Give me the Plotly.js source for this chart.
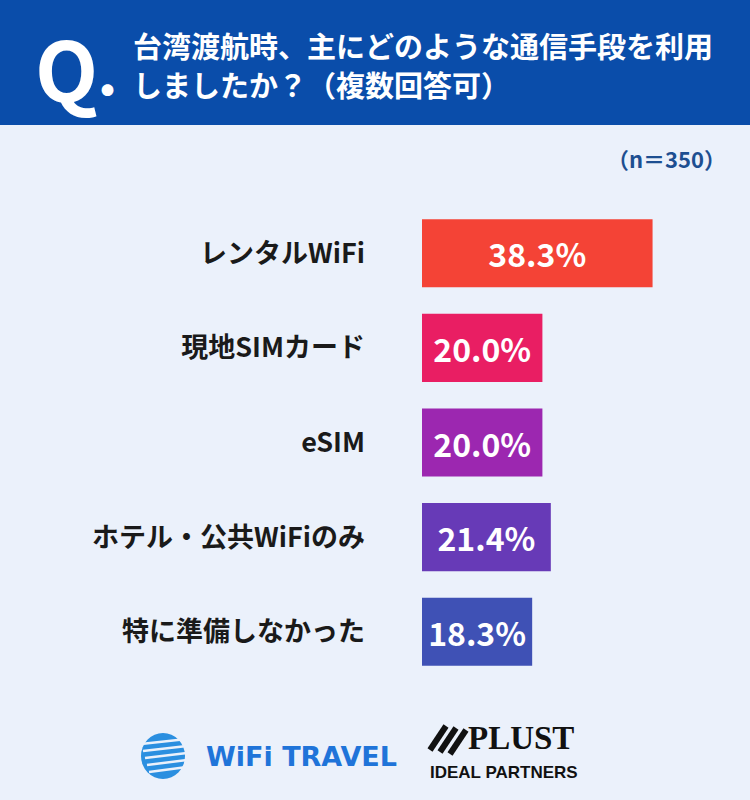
<!DOCTYPE html>
<html>
<head>
<meta charset="utf-8">
<script src="https://cdn.plot.ly/plotly-3.0.1.min.js"></script>
<style>html,body{margin:0;padding:0;background:#ebf1fb;}</style>
</head>
<body>
<div id="chart" style="width:750px;height:800px;"></div>
<script>
const categories = ['レンタルWiFi', '現地SIMカード', 'eSIM', 'ホテル・公共WiFiのみ', '特に準備しなかった'];
const values = [38.3, 20.0, 20.0, 21.4, 18.3];
const barColors = ['#f44336', '#e91e63', '#9c27b0', '#673ab7', '#3f51b5'];
const titleLine1 = '台湾渡航時、主にどのような通信手段を利用';
const titleLine2 = 'しましたか？（複数回答可）';
const sampleNote = '（n＝350）';

const W = 750, H = 800;
const M = {l: 422, r: 27, t: 206, b: 121};
const PW = W - M.l - M.r, PH = H - M.t - M.b;
const px = x => (x - M.l) / PW;
const py = y => (H - M.b - y) / PH;
const JP = '"Noto Sans CJK JP", "Noto Sans", sans-serif';

const shapes = [
  {type: 'rect', xref: 'paper', yref: 'paper', x0: px(0), x1: px(W), y0: py(125), y1: py(0),
   fillcolor: '#0a4daa', line: {width: 0}, layer: 'below'},
  // globe logo
  {type: 'circle', xref: 'paper', yref: 'paper', x0: px(141), x1: px(185), y0: py(779), y1: py(733),
   fillcolor: '#2b8fe0', line: {width: 0}}
];
// white stripes on globe
[741, 748, 755, 762, 769].forEach((y, i) => {
  shapes.push({type: 'line', xref: 'paper', yref: 'paper', x0: px(141 + i * 2), x1: px(187), y0: py(y + 3), y1: py(y - 2),
    line: {color: '#ebf1fb', width: 2.5}});
});
// PLUST mark strokes
[[430, 750, 446, 726], [440, 752, 456, 728], [450, 754, 466, 730]].forEach(s => {
  shapes.push({type: 'line', xref: 'paper', yref: 'paper', x0: px(s[0]), y0: py(s[1]), x1: px(s[2]), y1: py(s[3]),
    line: {color: '#111', width: 6}});
});

const annotations = [
  {xref: 'paper', yref: 'paper', x: px(33), y: py(66), xanchor: 'left', yanchor: 'middle', showarrow: false,
   text: 'Q', font: {family: JP, size: 82, color: '#ffffff', weight: 700}},
  {xref: 'paper', yref: 'paper', x: px(99), y: py(89), xanchor: 'left', yanchor: 'middle', showarrow: false,
   text: '●', font: {family: JP, size: 13, color: '#ffffff'}},
  {xref: 'paper', yref: 'paper', x: px(131), y: py(45), xanchor: 'left', yanchor: 'middle', showarrow: false,
   text: titleLine1, font: {family: JP, size: 29, color: '#ffffff', weight: 700}},
  {xref: 'paper', yref: 'paper', x: px(131), y: py(84), xanchor: 'left', yanchor: 'middle', showarrow: false,
   text: titleLine2, font: {family: JP, size: 29, color: '#ffffff', weight: 700}},
  {xref: 'paper', yref: 'paper', x: px(728), y: py(158), xanchor: 'right', yanchor: 'middle', showarrow: false,
   text: sampleNote, font: {family: JP, size: 22, color: '#1d4f91', weight: 700}},
  {xref: 'paper', yref: 'paper', x: px(204), y: py(756), xanchor: 'left', yanchor: 'middle', showarrow: false,
   text: 'WiFi TRAVEL', font: {family: '"DejaVu Sans", sans-serif', size: 27, color: '#1f74d9', weight: 700}},
  {xref: 'paper', yref: 'paper', x: px(466), y: py(738), xanchor: 'left', yanchor: 'middle', showarrow: false,
   text: 'PLUST', font: {family: '"Liberation Serif", serif', size: 33, color: '#111111', weight: 700}},
  {xref: 'paper', yref: 'paper', x: px(428), y: py(772), xanchor: 'left', yanchor: 'middle', showarrow: false,
   text: 'IDEAL PARTNERS', font: {family: '"Liberation Sans Narrow", "Liberation Sans", sans-serif', size: 17, color: '#111111', weight: 700}}
];

const trace = {
  type: 'bar', orientation: 'h',
  x: values, y: categories,
  marker: {color: barColors, line: {width: 0}},
  texttemplate: '%{x:.1f}%', textposition: 'inside', insidetextanchor: 'middle',
  constraintext: 'none', cliponaxis: false,
  textfont: {family: JP, size: 32, color: '#ffffff', weight: 700},
  hoverinfo: 'skip'
};

const layout = {
  width: W, height: H, margin: M,
  paper_bgcolor: '#ebf1fb', plot_bgcolor: 'rgba(0,0,0,0)',
  bargap: 0.28, showlegend: false,
  xaxis: {range: [0, 50], visible: false, fixedrange: true},
  yaxis: {type: 'category', range: [4.5, -0.5], showgrid: false, zeroline: false, showline: false,
          ticks: '', ticklabelstandoff: 56, automargin: false,
          tickfont: {family: JP, size: 27, color: '#1a1a1a', weight: 700}},
  shapes: shapes, annotations: annotations
};

Plotly.newPlot('chart', [trace], layout, {displayModeBar: false, staticPlot: true});
</script>
</body>
</html>
